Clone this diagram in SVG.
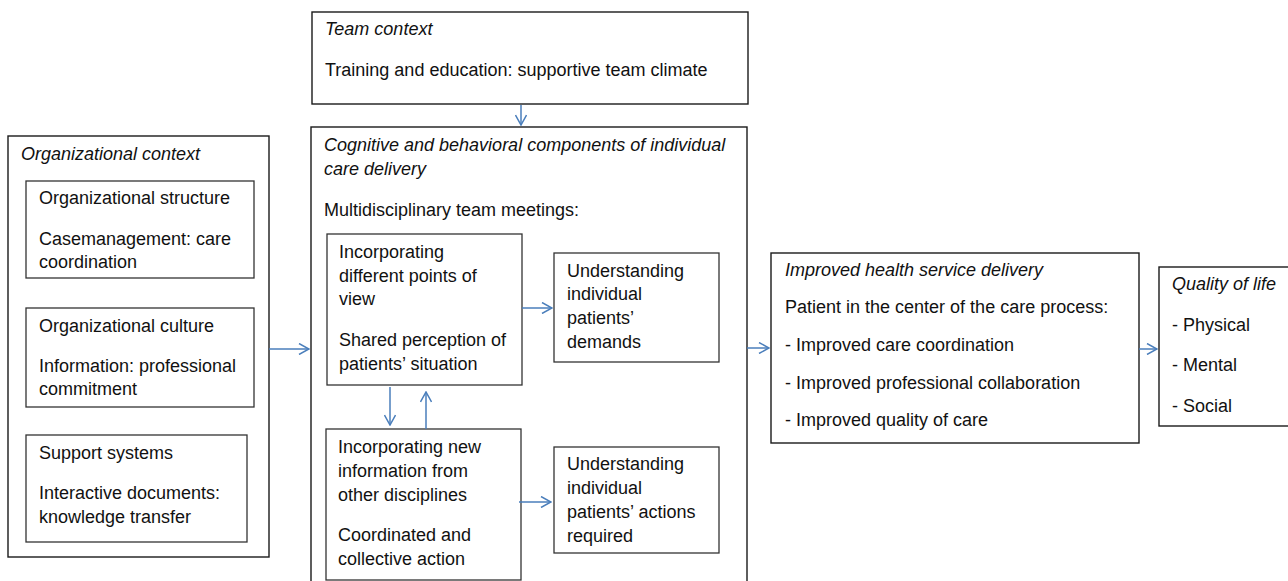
<svg xmlns="http://www.w3.org/2000/svg" width="1288" height="581" viewBox="0 0 1288 581">
<style>
  .box { fill: #ffffff; stroke: #1a1a1a; stroke-width: 1.4; }
  .ibox { fill: #ffffff; stroke: #333333; stroke-width: 1.3; }
  text { font-family: "Liberation Sans", Arial, sans-serif; font-size: 18px; fill: #111111; }
  .it { font-style: italic; }
  .conn line { stroke: #4a7ebb; stroke-width: 1.5; marker-end: url(#arr); }
</style>
<defs>
  <marker id="arr" viewBox="0 0 12 12" refX="11" refY="6" markerWidth="12" markerHeight="12" markerUnits="userSpaceOnUse" orient="auto">
    <path d="M1,0.5 L11,6 L1,11.5" fill="none" stroke="#4a7ebb" stroke-width="1.5"/>
  </marker>
</defs>
<rect width="1288" height="581" fill="#ffffff"/>

<g id="org-context">
  <rect class="box" x="8" y="136" width="261" height="421"/>
  <text class="it" x="21" y="160">Organizational context</text>
</g>
<g id="org-structure">
  <rect class="ibox" x="26" y="181" width="228" height="97"/>
  <text x="39" y="204">Organizational structure</text>
  <text x="39" y="245">Casemanagement: care</text>
  <text x="39" y="268">coordination</text>
</g>
<g id="org-culture">
  <rect class="ibox" x="26" y="308" width="228" height="99"/>
  <text x="39" y="332">Organizational culture</text>
  <text x="39" y="372">Information: professional</text>
  <text x="39" y="395">commitment</text>
</g>
<g id="support-systems">
  <rect class="ibox" x="26" y="435" width="221" height="107"/>
  <text x="39" y="459">Support systems</text>
  <text x="39" y="499">Interactive documents:</text>
  <text x="39" y="523">knowledge transfer</text>
</g>

<g id="team-context">
  <rect class="box" x="312" y="12" width="436" height="92"/>
  <text class="it" x="325" y="35">Team context</text>
  <text x="325" y="76">Training and education: supportive team climate</text>
</g>

<g id="cognitive">
  <rect class="box" x="311" y="127" width="436" height="470"/>
  <text class="it" x="324" y="151">Cognitive and behavioral components of individual</text>
  <text class="it" x="324" y="175">care delivery</text>
  <text x="324" y="216">Multidisciplinary team meetings:</text>
</g>
<g id="points-of-view">
  <rect class="ibox" x="327" y="234" width="195" height="151"/>
  <text x="339" y="258">Incorporating</text>
  <text x="339" y="282">different points of</text>
  <text x="339" y="305">view</text>
  <text x="339" y="346">Shared perception of</text>
  <text x="339" y="370">patients’ situation</text>
</g>
<g id="understanding-demands">
  <rect class="ibox" x="554" y="253" width="165" height="109"/>
  <text x="567" y="277">Understanding</text>
  <text x="567" y="300">individual</text>
  <text x="567" y="324">patients’</text>
  <text x="567" y="348">demands</text>
</g>
<g id="new-information">
  <rect class="ibox" x="326" y="429" width="195" height="151"/>
  <text x="338" y="453">Incorporating new</text>
  <text x="338" y="477">information from</text>
  <text x="338" y="501">other disciplines</text>
  <text x="338" y="541">Coordinated and</text>
  <text x="338" y="565">collective action</text>
</g>
<g id="understanding-actions">
  <rect class="ibox" x="554" y="447" width="165" height="106"/>
  <text x="567" y="470">Understanding</text>
  <text x="567" y="494">individual</text>
  <text x="567" y="518">patients’ actions</text>
  <text x="567" y="542">required</text>
</g>

<g id="improved-delivery">
  <rect class="box" x="771" y="253" width="368" height="190"/>
  <text class="it" x="785" y="276">Improved health service delivery</text>
  <text x="785" y="313">Patient in the center of the care process:</text>
  <text x="785" y="351">- Improved care coordination</text>
  <text x="785" y="389">- Improved professional collaboration</text>
  <text x="785" y="426">- Improved quality of care</text>
</g>

<g id="quality-of-life">
  <rect class="box" x="1159" y="267" width="140" height="159"/>
  <text class="it" x="1172" y="290">Quality of life</text>
  <text x="1172" y="331">- Physical</text>
  <text x="1172" y="371">- Mental</text>
  <text x="1172" y="412">- Social</text>
</g>

<g id="connectors" class="conn">
  <line x1="521" y1="105" x2="521" y2="125"/>
  <line x1="269" y1="349" x2="309" y2="349"/>
  <line x1="522" y1="308" x2="552" y2="308"/>
  <line x1="519" y1="502" x2="551" y2="502"/>
  <line x1="390" y1="387" x2="390" y2="425"/>
  <line x1="426" y1="429" x2="426" y2="392"/>
  <line x1="747" y1="348" x2="769" y2="348"/>
  <line x1="1139" y1="349" x2="1157" y2="349"/>
</g>
</svg>
